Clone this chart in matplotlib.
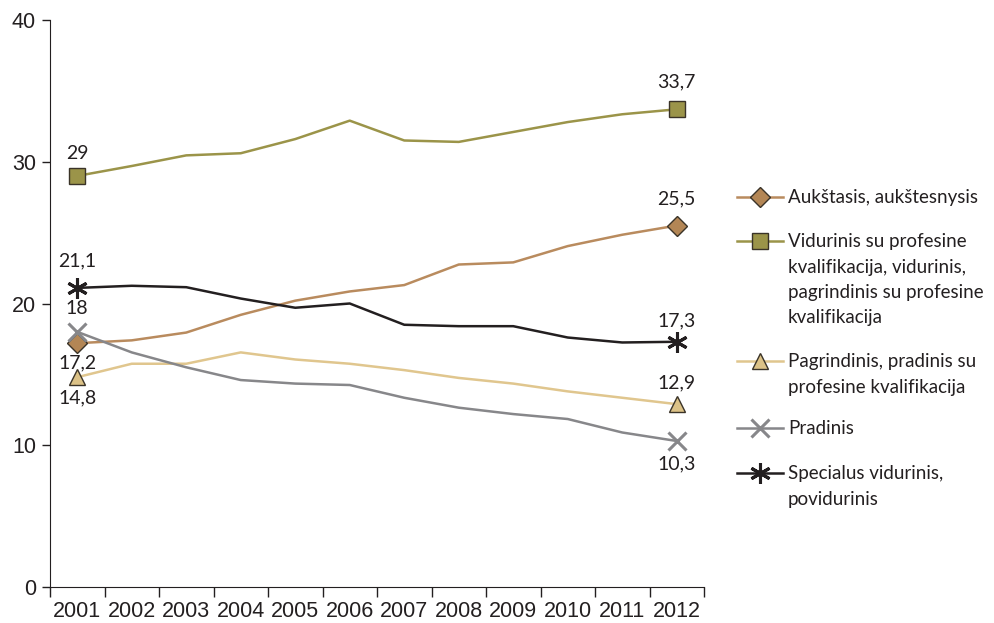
import numpy as np
import matplotlib.pyplot as plt

years = ["2001", "2002", "2003", "2004", "2005", "2006", "2007", "2008", "2009", "2010", "2011", "2012"]

aukstasis = [17.2, 17.4, 17.95, 19.2, 20.2, 20.85, 21.3, 22.75, 22.9, 24.05, 24.85, 25.5]
vidurinis_prof = [29.0, 29.7, 30.45, 30.6, 31.6, 32.9, 31.5, 31.4, 32.1, 32.8, 33.35, 33.7]
pagrindinis = [14.8, 15.75, 15.75, 16.55, 16.05, 15.75, 15.3, 14.75, 14.35, 13.8, 13.35, 12.9]
pradinis = [18.0, 16.55, 15.5, 14.6, 14.35, 14.25, 13.35, 12.65, 12.2, 11.85, 10.9, 10.3]
specialus = [21.1, 21.25, 21.15, 20.35, 19.7, 20.0, 18.5, 18.4, 18.4, 17.6, 17.25, 17.3]

labels = ["Aukštasis, aukštesnysis",
          "Vidurinis su profesine\nkvalifikacija, vidurinis,\npagrindinis su profesine\nkvalifikacija",
          "Pagrindinis, pradinis su\nprofesine kvalifikacija",
          "Pradinis",
          "Specialus vidurinis,\npovidurinis"]

dark = "#231f20"
fig = plt.figure(figsize=(9.95, 6.23), dpi=100)
ax = fig.add_axes([50/995, 36/623, 654/995, 567/623])

x = np.arange(len(years))
series = [aukstasis, vidurinis_prof, pagrindinis, pradinis, specialus]
colors = ["#b98b5e", "#9b9449", "#e0c68e", "#87878a", "#231f20"]
markers = ["D", "s", "^", "x", (6, 2, 0)]
msizes = [10, 11, 12, 13, 15]
mfc = ["#b38655", "#9b9449", "#dcc287", "#87878a", "#231f20"]


def style(c, m, ms, fc):
    if m == "x" or isinstance(m, tuple):
        return dict(color=c, lw=1.8, marker=m, ms=ms, mew=2.2, mec=c)
    return dict(color=c, lw=1.8, marker=m, ms=ms, mfc=fc, mec="#3a3328", mew=1.0)


for s, c, m, ms, fc in zip(series, colors, markers, msizes, mfc):
    ax.plot(x, s, markevery=[0, len(s)-1], **style(c, m, ms, fc))

# data labels at first and last year
lab_font = dict(fontsize=14, family="Lato", color=dark, ha="center")
first_off = [-14.5, 16, -15, 16.5, 19.5]
last_off = [19, 19.5, 15, -16.5, 15]
for s, fo, lo in zip(series, first_off, last_off):
    for xi, off in ((0, fo), (len(s)-1, lo)):
        v = s[xi]
        txt = ("%g" % v).replace(".", ",")
        ax.annotate(txt, (x[xi], v), xytext=(0, off), textcoords="offset points",
                    va="center", **lab_font)

ax.set_xlim(-0.5, len(years) - 0.5)
ax.set_ylim(0, 40)
ax.set_yticks([0, 10, 20, 30, 40])
ax.set_xticks(np.arange(-0.5, len(years), 1.0))
ax.set_xticklabels([])
ax.set_xticks(x, minor=True)
ax.set_xticklabels(years, minor=True)
ax.tick_params(axis="x", which="major", length=7, width=1, color=dark, direction="out")
ax.tick_params(axis="x", which="minor", length=0, pad=10, labelsize=15.5, labelcolor=dark)
ax.tick_params(axis="y", length=6, width=1, color=dark, labelsize=15.5, labelcolor=dark, pad=4)
for lbl in ax.get_xticklabels(minor=True) + ax.get_yticklabels():
    lbl.set_family("Liberation Sans")
ax.spines["top"].set_visible(False)
ax.spines["right"].set_visible(False)
ax.spines["left"].set_color(dark)
ax.spines["bottom"].set_color(dark)

# legend drawn by hand so the key sits on the first text line (pixel layout)
lg = fig.add_axes([0, 0, 1, 1])
lg.set_xlim(0, 995)
lg.set_ylim(623, 0)
lg.axis("off")
leg_y = [197, 241, 361, 428, 473]
pitch = 25.2
for yy, lab, c, m, ms, fc in zip(leg_y, labels, colors, markers, msizes, mfc):
    st = style(c, m, ms, fc)
    lg.plot([737, 783], [yy, yy], color=c, lw=1.8)
    st.pop("lw")
    lg.plot([760], [yy], ls="none", **st)
    for i, line in enumerate(lab.split("\n")):
        lg.text(788, yy + i * pitch + 6.5, line, family="Lato", fontsize=13.5,
                color=dark, va="baseline", ha="left")

fig.savefig("out.png", dpi=100)
